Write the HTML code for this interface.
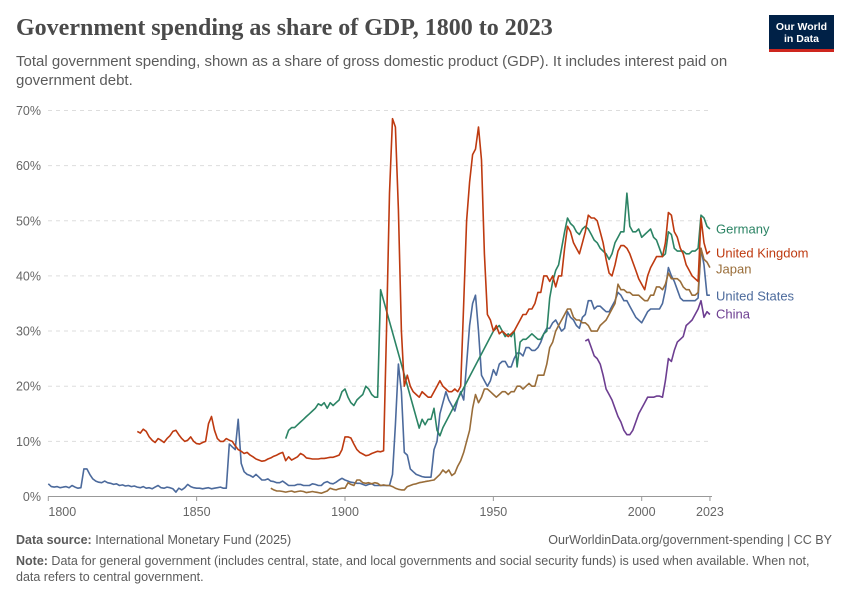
<!DOCTYPE html>
<html><head><meta charset="utf-8"><style>
body{margin:0;background:#fff;font-family:"Liberation Sans",sans-serif;}
#w{position:relative;width:850px;height:600px;overflow:hidden}
.t{position:absolute;white-space:nowrap}
</style></head><body><div id="w">
<div class="t" style="left:16px;top:15px;font-family:'Liberation Serif',serif;font-size:24px;font-weight:bold;color:#4a4a4a;">Government spending as share of GDP, 1800 to 2023</div>
<div class="t" style="left:16px;top:52px;font-size:15px;color:#5b5b5b;line-height:19px;white-space:normal;width:720px">Total government spending, shown as a share of gross domestic product (GDP). It includes interest paid on government debt.</div>
<div style="position:absolute;left:769px;top:15px;width:65px;height:37px;background:#002147;border-bottom:3px solid #ce261e;box-sizing:border-box;color:#fff;font-size:10.5px;font-weight:bold;text-align:center;line-height:12px;padding-top:6px">Our World<br>in Data</div>
<svg id="s" width="850" height="600" style="position:absolute;left:0;top:0"></svg>
<div class="t" style="left:16px;top:533px;font-size:12.5px;color:#5b5b5b"><b>Data source:</b> International Monetary Fund (2025)</div>
<div class="t" style="right:18px;top:533px;font-size:12.5px;color:#5b5b5b">OurWorldinData.org/government-spending | CC BY</div>
<div class="t" style="left:16px;top:553px;font-size:12.5px;color:#5b5b5b;white-space:normal;width:820px;line-height:16px"><b>Note:</b> Data for general government (includes central, state, and local governments and social security funds) is used when available. When not, data refers to central government.</div>
</div>
<script>
const X=y=>48.3+2.967*(y-1800), Y=v=>496.5-5.515*v;
let s='';
for(let i=1;i<=7;i++){s+=`<line x1="48" x2="712" y1="${Y(i*10)}" y2="${Y(i*10)}" stroke="#ddd" stroke-dasharray="4,4"/>`;}
for(let i=0;i<=7;i++)s+=`<text x="41" y="${Y(i*10)+4.5}" text-anchor="end" font-size="12.5" fill="#666" font-family="Liberation Sans">${i*10}%</text>`;
s+=`<line x1="48" x2="712" y1="496.5" y2="496.5" stroke="#999"/>`;
[1800,1850,1900,1950,2000,2023].forEach(y=>{s+=`<line x1="${X(y)}" x2="${X(y)}" y1="496.5" y2="501" stroke="#999"/><text x="${y==1800?X(y)+14:X(y)}" y="516" text-anchor="middle" font-size="12.5" fill="#666" font-family="Liberation Sans">${y}</text>`});
function P(str,c){const a=str.split(',').map(p=>p.trim().split(' ').map(Number));s+=`<polyline fill="none" stroke="${c}" stroke-width="1.6" stroke-linejoin="round" points="${a.map(p=>X(p[0]).toFixed(1)+','+Y(p[1]).toFixed(1)).join(' ')}"/>`;}
function exp(start,vals){return vals.map((v,i)=>(start+i)+' '+v).join(',');}
P(exp(1800,[2.3,1.8,1.7,1.8,1.6,1.7,1.8,1.6,2,1.7,1.5,1.6,5,5,4,3.2,2.8,2.6,2.5,2.8,2.5,2.4,2.2,2.3,2,2.1,1.9,2,1.8,1.9,1.7,1.6,1.8,1.5,1.6,1.4,1.7,2,1.6,1.5,1.7,1.6,1.4,0.8,1.5,1.2,1.6,2.2,1.8,1.6,1.5,1.5,1.4,1.5,1.6,1.4,1.5,1.6,1.7,1.5,1.5,9.5,9,8.5,14,6,4.5,4,3.8,3.5,4,3.5,3,3,3.2,2.8,2.7,2.5,2.5,2.8,2.4,2,2,2,2.2,2.2,2,2,2,2.3,2.2,2,2,2.5,2.7,2.4,2.3,2.6,3,3.3,3,2.8,2.6,2.5,2.4,2.4,2.2,2,2.2,2.3,2,2,2,2,2,2,4,13,24,19,8,7.5,5,4.5,4,3.8,3.6,3.5,3.5,3.5,8.5,10,15,17,19,17.5,16.5,15.5,17.5,19,17.5,24,31,35,36.5,30,22,21,20,21,23,22,24,24.5,24.5,23.5,23.5,25,26,26,25.5,27,27,26.5,26.5,27,28,29.5,30.5,30.5,31.5,32,31,30,30.5,33.5,32.5,32,31,30.5,32.5,33,35.5,35.5,34,34.5,34.5,34,33.5,33.5,34.5,35.5,37,36.5,35.5,35.5,34.5,33.5,32.5,32,31.5,32.5,33.5,34,34,34,34,35,37.5,41.5,40,39,37.5,36,35.5,35.5,35.5,35.5,35.5,36,45,42,36.5,36.5]),'#4c6a9c');
P(exp(1875,[1.5,1.2,1,1,0.9,0.8,0.9,1,0.8,0.9,1,0.9,0.7,0.8,0.9,0.8,0.7,0.6,0.8,1,1.5,1.3,1.2,1.4,1.5,1.5,2.5,2.2,2,3,3,2.5,2.4,2.5,2.3,2.5,2.4,2,2.1,2,2,1.8,1.5,1.3,1.2,1.2,1.8,2,2.2,2.3,2.5,2.6,2.7,2.8,2.9,3,3.5,4,4.8,4.3,4.8,3.8,4.2,5.5,6.5,8,10,12,16,18.5,17,18,19.5,19.5,19,18.5,18,18.5,19,19,18.5,19,19,20,20,19.5,20,20.5,20,20,22,22,22,24,27,28,30,31,32,33,34,34,32.5,32,32,31.5,31.5,31,30,30,30,31,31.5,32,33,34,35,38.5,37.5,37.5,37,37,36.5,36.5,36.5,36,35.5,35.5,36.5,36.5,38,38,37.5,38.5,40.5,39.5,39.5,39.5,39,38,37.5,37.5,36.5,36.5,37,45,43,42.5,41.5]),'#996d39');
P(exp(1880,[10.5,12,12.5,12.5,13,13.5,14,14.5,15,15.5,16,16.8,16.5,17,16,17,16.5,17,17.5,19,19.5,18,17,16.5,17.5,18,18.5,20,19.5,18.5,18,18,37.5])+',1925 12.4,'+exp(1926,[14,13,14,14,16,12,11,12.5])+',1950 30,'+exp(1951,[30.5,31,30,29,29.5,29,30,23.5,28,28.5,28.5,29,29.5,29,28.5,28.5,29.5,30,36,39,41,42,45,48,50.5,49.5,49,48,47.5,48.5,49,48.5,47.5,46.5,46,45,44.5,44,43,44,46,47,48,48,55,49,48,48,48.5,47,47.5,48,48.5,47,46.5,45,43.5,44,48,47.5,45,44.5,44.5,44.5,44,44,44.5,44.5,45,51,50.5,49,48.5]),'#2c8465');
P(exp(1830,[11.8,11.5,12.2,11.8,10.8,10.2,9.8,10.5,10.2,9.8,10.5,11,11.8,12,11.2,10.5,10,10.2,10.8,10,9.6,9.5,9.8,10,13.2,14.5,12,10.5,10,10,10.5,10.2,10,9.2,8.5,8.2,7.8,8,7.5,7.2,6.8,6.6,6.4,6.5,6.8,7,7.3,7.5,7.8,8,6.5,7.2,6.6,6.9,7.2,7.8,7.5,7,6.9,6.8,6.8,6.8,6.9,6.9,7,7.1,7.1,7.3,7.5,8.5,10.8,10.8,10.6,9.5,8.5,8,7.7,7.4,7.5,7.8,8,8.2,8.1,8.3,30,55,68.5,67,52,30,20,22,20,19,18.5,18,19,18.5,18,18,19,20,21,20,19.5,19,19,19.5,19,20,35,50,57,62,63,67,61,44,33,32,30,31,29.5,30,29.5,29,29.5,30,31,32,33,33,34,34,35,37,37,40,40,39,40,38,40,40,45,49,48,46,45,44,46,48,51,50.5,50.5,50,48,46,43,40.5,40,42,44.5,45.5,45.5,45,44,42.5,41,39.5,38.5,37.5,40,41.5,42.5,43.5,43.5,43.5,46,51.5,51,48,47,45,44,42,41,40,39.5,39,50.5,46,44,44.5]),'#be3a10');
P(exp(1981,[28.2,28.5,27,25.5,25,24,22,19.5,18.5,17.5,16,14.5,13.5,12,11.2,11.2,12,13.5,15,16,17,18,18,18,18.2,18.2,18,21,25,24.5,26.5,28,28.5,29,31,31.5,32,33,34,35.5,32.5,33.5,33]),'#6d3e91');
[['Germany',229,'#2c8465'],['United Kingdom',253,'#be3a10'],['Japan',269,'#996d39'],['United States',296,'#4c6a9c'],['China',314,'#6d3e91']].forEach(l=>{s+=`<text x="716" y="${l[1]+4.5}" font-size="13" fill="${l[2]}" font-family="Liberation Sans">${l[0]}</text>`});
document.getElementById('s').innerHTML=s;
</script>
</body></html>
